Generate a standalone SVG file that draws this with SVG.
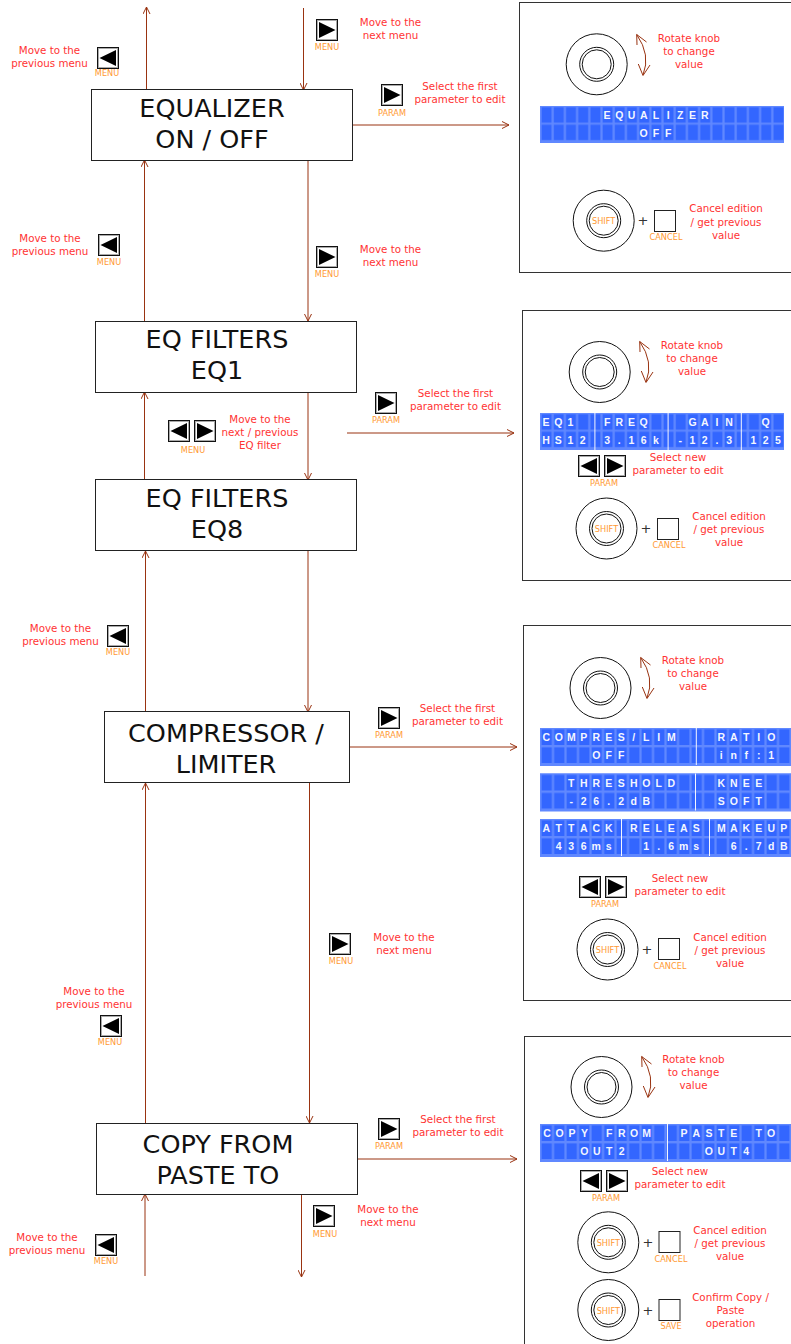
<svg xmlns="http://www.w3.org/2000/svg" width="791" height="1344" viewBox="0 0 791 1344">
<style>
text{font-family:"DejaVu Sans",Verdana,sans-serif}
.box{fill:#fff;stroke:#222;stroke-width:1}
.title{font-size:25.5px;fill:#111;text-anchor:middle}
.note{font-size:10.3px;fill:#ff3333;text-anchor:middle}
.tag{font-size:8.2px;fill:#ff9933;text-anchor:middle}
.panel{fill:#fff;stroke:#333;stroke-width:1}
.c{fill:none;stroke:#993311;stroke-width:1}
.ring{fill:none;stroke:#111;stroke-width:1}
.sq{fill:#fff;stroke:#222;stroke-width:1}
.plus{font-size:13px;fill:#333;text-anchor:middle}
.lc{font-family:"Liberation Sans",Arial,sans-serif;font-size:10.5px;font-weight:bold;fill:#f4f6ff;text-anchor:middle}
.bar{fill:#f4f6ff}
.bg{fill:#6088ff}
</style>
<defs>
<marker id="ah" viewBox="0 0 8 8" refX="7.5" refY="4" markerWidth="8" markerHeight="8" markerUnits="userSpaceOnUse" orient="auto-start-reverse"><path d="M0.5 0.5L7.5 4L0.5 7.5" fill="none" stroke="#993311" stroke-width="1"/></marker>
<pattern id="g1" width="12.2" height="17.4" patternUnits="userSpaceOnUse"><rect width="12.2" height="17.4" fill="#6088ff"/><rect x="1.6" y="1.3" width="10" height="15.4" fill="#3366ff"/></pattern>
<pattern id="g2" width="12.5" height="18" patternUnits="userSpaceOnUse"><rect width="12.5" height="18" fill="#6088ff"/><rect x="1.6" y="1.4" width="10.3" height="15.6" fill="#3366ff"/></pattern>
<g id="bl"><rect x="0.5" y="0.5" width="21" height="21" fill="#fff" stroke="#111"/><rect x="1.5" y="1.5" width="19" height="19" fill="none" stroke="#aaa"/><path d="M2.5 11L19 3V19Z" fill="#000"/></g>
<g id="br"><rect x="0.5" y="0.5" width="21" height="21" fill="#fff" stroke="#111"/><rect x="1.5" y="1.5" width="19" height="19" fill="none" stroke="#aaa"/><path d="M19.5 11L3 3V19Z" fill="#000"/></g>
<g id="knob"><circle r="30.5" class="ring"/><circle r="17" class="ring"/><circle r="14.5" class="ring"/></g>
<path id="curve" d="M636.7 34.5Q651 55 643 75M637 45L636.7 34.5L646.5 42M638.3 64L643 75.5L650 65" class="c"/>
</defs>
<rect width="791" height="1344" fill="#fff"/>

<g id="connectors">
<path class="c" marker-end="url(#ah)" d="M146.5 89V7"/>
<path class="c" marker-end="url(#ah)" d="M303.5 8V90"/>
<path class="c" marker-end="url(#ah)" d="M353 125H509"/>
<path class="c" marker-end="url(#ah)" d="M144.5 321V160"/>
<path class="c" marker-end="url(#ah)" d="M308 160V321"/>
<path class="c" marker-end="url(#ah)" d="M347 433H514"/>
<path class="c" marker-end="url(#ah)" d="M144.5 480V392"/>
<path class="c" marker-end="url(#ah)" d="M308 392V480"/>
<path class="c" marker-end="url(#ah)" d="M145.5 712V551"/>
<path class="c" marker-end="url(#ah)" d="M308 551V712"/>
<path class="c" marker-end="url(#ah)" d="M350 747H517"/>
<path class="c" marker-end="url(#ah)" d="M145.5 1123V783"/>
<path class="c" marker-end="url(#ah)" d="M309.5 783V1123"/>
<path class="c" marker-end="url(#ah)" d="M358 1159H517"/>
<path class="c" marker-end="url(#ah)" d="M145 1276V1194"/>
<path class="c" marker-end="url(#ah)" d="M301.5 1194V1277"/>
</g>

<g id="node-equalizer"><rect class="box" x="91.5" y="89.5" width="261" height="71"/><text class="title" x="212" y="117">EQUALIZER</text><text class="title" x="212" y="148">ON / OFF</text></g>
<g id="node-eq1"><rect class="box" x="95.5" y="321.5" width="261" height="71"/><text class="title" x="217" y="348">EQ FILTERS</text><text class="title" x="217" y="379">EQ1</text></g>
<g id="node-eq8"><rect class="box" x="95.5" y="479.5" width="261" height="71"/><text class="title" x="217" y="507">EQ FILTERS</text><text class="title" x="217" y="538">EQ8</text></g>
<g id="node-compressor"><rect class="box" x="104.5" y="711.5" width="245" height="71"/><text class="title" x="226" y="742">COMPRESSOR /</text><text class="title" x="226" y="773">LIMITER</text></g>
<g id="node-copy"><rect class="box" x="96.5" y="1123.5" width="261" height="71"/><text class="title" x="218" y="1153">COPY FROM</text><text class="title" x="218" y="1184">PASTE TO</text></g>

<g id="hint-prev-1"><use href="#bl" x="97" y="47"/><text class="tag" x="107" y="76">MENU</text><text class="note" x="49.5" y="54">Move to the</text><text class="note" x="49.5" y="67">previous menu</text></g>
<g id="hint-next-1"><use href="#br" x="316" y="19"/><text class="tag" x="327" y="50">MENU</text><text class="note" x="390.5" y="26">Move to the</text><text class="note" x="390.5" y="39">next menu</text></g>
<g id="hint-param-1"><use href="#br" x="381" y="84"/><text class="tag" x="392" y="116">PARAM</text><text class="note" x="460" y="90">Select the first</text><text class="note" x="460" y="103">parameter to edit</text></g>
<g id="hint-prev-2"><use href="#bl" x="98" y="234"/><text class="tag" x="109" y="265">MENU</text><text class="note" x="50" y="242">Move to the</text><text class="note" x="50" y="255">previous menu</text></g>
<g id="hint-next-2"><use href="#br" x="316" y="246"/><text class="tag" x="327" y="277">MENU</text><text class="note" x="390.5" y="253">Move to the</text><text class="note" x="390.5" y="266">next menu</text></g>
<g id="hint-param-2"><use href="#br" x="375" y="392"/><text class="tag" x="386" y="423">PARAM</text><text class="note" x="455.5" y="397">Select the first</text><text class="note" x="455.5" y="410">parameter to edit</text></g>
<g id="hint-eq"><use href="#bl" x="168" y="420"/><use href="#br" x="194" y="420"/><text class="tag" x="193" y="453">MENU</text><text class="note" x="260" y="423">Move to the</text><text class="note" x="260" y="436">next / previous</text><text class="note" x="260" y="449">EQ filter</text></g>
<g id="hint-prev-3"><use href="#bl" x="107" y="625"/><text class="tag" x="118" y="655">MENU</text><text class="note" x="60.5" y="632">Move to the</text><text class="note" x="60.5" y="645">previous menu</text></g>
<g id="hint-param-3"><use href="#br" x="378" y="707"/><text class="tag" x="389" y="738">PARAM</text><text class="note" x="457.5" y="712">Select the first</text><text class="note" x="457.5" y="725">parameter to edit</text></g>
<g id="hint-next-3"><use href="#br" x="329" y="933"/><text class="tag" x="341" y="964">MENU</text><text class="note" x="404" y="941">Move to the</text><text class="note" x="404" y="954">next menu</text></g>
<g id="hint-prev-4"><use href="#bl" x="100" y="1015"/><text class="tag" x="110" y="1045">MENU</text><text class="note" x="94" y="995">Move to the</text><text class="note" x="94" y="1008">previous menu</text></g>
<g id="hint-param-4"><use href="#br" x="378" y="1118"/><text class="tag" x="389" y="1149">PARAM</text><text class="note" x="458" y="1123">Select the first</text><text class="note" x="458" y="1136">parameter to edit</text></g>
<g id="hint-next-4"><use href="#br" x="313" y="1205"/><text class="tag" x="325" y="1237">MENU</text><text class="note" x="388" y="1213">Move to the</text><text class="note" x="388" y="1226">next menu</text></g>
<g id="hint-prev-5"><use href="#bl" x="95" y="1234"/><text class="tag" x="106" y="1264">MENU</text><text class="note" x="47" y="1241">Move to the</text><text class="note" x="47" y="1254">previous menu</text></g>

<g id="panel-equalizer">
<rect class="panel" x="519.5" y="2.5" width="290" height="270"/>
<use href="#knob" x="596.7" y="64.3"/><use href="#curve"/>
<text class="note" x="689" y="42">Rotate knob</text><text class="note" x="689" y="55">to change</text><text class="note" x="689" y="68">value</text>
<g transform="translate(540,106)"><rect class="bg" width="244" height="37"/><rect width="244" height="34.8" fill="url(#g1)"/>
<text class="lc" y="13" x="67.1 79.3 91.5 103.7 115.9 128.1 140.3 152.5 164.7">EQUALIZER</text>
<text class="lc" y="31" x="103.7 115.9 128.1">OFF</text></g>
<use href="#knob" x="603.7" y="220.7"/><text class="tag" x="603.7" y="224">SHIFT</text>
<text class="plus" x="643" y="225">+</text><rect class="sq" x="654.5" y="210.5" width="21" height="21"/><text class="tag" x="666" y="240">CANCEL</text>
<text class="note" x="726" y="212">Cancel edition</text><text class="note" x="726" y="226">/ get previous</text><text class="note" x="726" y="239">value</text>
</g>

<g id="panel-eq">
<rect class="panel" x="522.5" y="310.5" width="290" height="270"/>
<use href="#knob" x="599.7" y="372"/><use href="#curve" x="3" y="307"/>
<text class="note" x="692" y="349">Rotate knob</text><text class="note" x="692" y="362">to change</text><text class="note" x="692" y="375">value</text>
<g transform="translate(540,413)"><rect class="bg" width="244" height="37"/><rect width="244" height="34.8" fill="url(#g1)"/>
<rect class="bar" x="54.4" width="1" height="37"/><rect class="bar" x="127.6" width="1" height="37"/><rect class="bar" x="200.8" width="1" height="37"/>
<text class="lc" y="13" x="6.1 18.3 30.5 67.1 79.3 91.5 103.7 152.5 164.7 176.9 189.1 225.7">EQ1FREQGAINQ</text>
<text class="lc" y="31" x="6.1 18.3 30.5 42.7 67.1 79.3 91.5 103.7 115.9 140.3 152.5 164.7 176.9 189.1 213.5 225.7 237.9">HS123.16k-12.3125</text></g>
<use href="#bl" x="578" y="455"/><use href="#br" x="604" y="455"/><text class="tag" x="604" y="486">PARAM</text>
<text class="note" x="678" y="461">Select new</text><text class="note" x="678" y="474">parameter to edit</text>
<use href="#knob" x="606.5" y="528.5"/><text class="tag" x="606.5" y="532">SHIFT</text>
<text class="plus" x="646" y="533">+</text><rect class="sq" x="657.5" y="518.5" width="21" height="21"/><text class="tag" x="669" y="548">CANCEL</text>
<text class="note" x="729" y="520">Cancel edition</text><text class="note" x="729" y="533">/ get previous</text><text class="note" x="729" y="546">value</text>
</g>

<g id="panel-compressor">
<rect class="panel" x="523.5" y="625.5" width="290" height="375"/>
<use href="#knob" x="600.5" y="688"/><use href="#curve" x="4" y="623"/>
<text class="note" x="693" y="664">Rotate knob</text><text class="note" x="693" y="677">to change</text><text class="note" x="693" y="690">value</text>
<g transform="translate(540,728)"><rect class="bg" width="251" height="38"/><rect width="251" height="36" fill="url(#g2)"/>
<rect class="bar" x="155.8" width="1" height="37"/>
<text class="lc" y="13" x="6.25 18.75 31.25 43.75 56.25 68.75 81.25 93.75 106.25 118.75 131.25 181.25 193.75 206.25 218.75 231.25">COMPRES/LIMRATIO</text>
<text class="lc" y="31" x="56.25 68.75 81.25 181.25 193.75 206.25 218.75 231.25">OFFinf:1</text></g>
<g transform="translate(540,773.5)"><rect class="bg" width="251" height="38"/><rect width="251" height="36" fill="url(#g2)"/>
<rect class="bar" x="155" width="1" height="37"/>
<text class="lc" y="13" x="31.25 43.75 56.25 68.75 81.25 93.75 106.25 118.75 131.25 181.25 193.75 206.25 218.75">THRESHOLDKNEE</text>
<text class="lc" y="31" x="31.25 43.75 56.25 68.75 81.25 93.75 106.25 181.25 193.75 206.25 218.75">-26.2dBSOFT</text></g>
<g transform="translate(540,819)"><rect class="bg" width="251" height="38"/><rect width="251" height="36" fill="url(#g2)"/>
<rect class="bar" x="81" width="1" height="37"/><rect class="bar" x="169" width="1" height="37"/>
<text class="lc" y="13" x="6.25 18.75 31.25 43.75 56.25 68.75 93.75 106.25 118.75 131.25 143.75 156.25 181.25 193.75 206.25 218.75 231.25 243.75">ATTACKRELEASMAKEUP</text>
<text class="lc" y="31" x="18.75 31.25 43.75 56.25 68.75 106.25 118.75 131.25 143.75 156.25 193.75 206.25 218.75 231.25 243.75">436ms1.6ms6.7dB</text></g>
<use href="#bl" x="579" y="876"/><use href="#br" x="605" y="876"/><text class="tag" x="605" y="907">PARAM</text>
<text class="note" x="680" y="882">Select new</text><text class="note" x="680" y="895">parameter to edit</text>
<use href="#knob" x="607.5" y="949.5"/><text class="tag" x="607.5" y="953">SHIFT</text>
<text class="plus" x="647" y="954">+</text><rect class="sq" x="658.5" y="938.5" width="21" height="21"/><text class="tag" x="670" y="969">CANCEL</text>
<text class="note" x="730" y="941">Cancel edition</text><text class="note" x="730" y="954">/ get previous</text><text class="note" x="730" y="967">value</text>
</g>

<g id="panel-copy">
<rect class="panel" x="524.5" y="1036.5" width="290" height="330"/>
<use href="#knob" x="601.5" y="1087"/><use href="#curve" x="5" y="1022"/>
<text class="note" x="693.5" y="1063">Rotate knob</text><text class="note" x="693.5" y="1076">to change</text><text class="note" x="693.5" y="1089">value</text>
<g transform="translate(540,1124)"><rect class="bg" width="251" height="38"/><rect width="251" height="36" fill="url(#g2)"/>
<rect class="bar" x="127" width="1" height="37"/>
<text class="lc" y="13" x="7 19.5 31.9 44.4 69.3 81.7 94.2 106.6 143.9 156.4 168.9 181.3 193.8 218.7 231.1">COPYFROMPASTETO</text>
<text class="lc" y="31" x="44.4 56.8 69.3 81.7 168.9 181.3 193.8 206.2">OUT2OUT4</text></g>
<use href="#bl" x="580" y="1170"/><use href="#br" x="606" y="1170"/><text class="tag" x="606" y="1201">PARAM</text>
<text class="note" x="680" y="1175">Select new</text><text class="note" x="680" y="1188">parameter to edit</text>
<use href="#knob" x="608.3" y="1242.3"/><text class="tag" x="608.3" y="1246">SHIFT</text>
<text class="plus" x="648" y="1247">+</text><rect class="sq" x="659" y="1231.5" width="21" height="21"/><text class="tag" x="671" y="1262">CANCEL</text>
<text class="note" x="730" y="1234">Cancel edition</text><text class="note" x="730" y="1247">/ get previous</text><text class="note" x="730" y="1260">value</text>
<use href="#knob" x="608.3" y="1310"/><text class="tag" x="608.3" y="1314">SHIFT</text>
<text class="plus" x="648" y="1315">+</text><rect class="sq" x="659" y="1299.5" width="21" height="21"/><text class="tag" x="671" y="1329">SAVE</text>
<text class="note" x="730.5" y="1301">Confirm Copy /</text><text class="note" x="730.5" y="1314">Paste</text><text class="note" x="730.5" y="1327">operation</text>
</g>
</svg>
